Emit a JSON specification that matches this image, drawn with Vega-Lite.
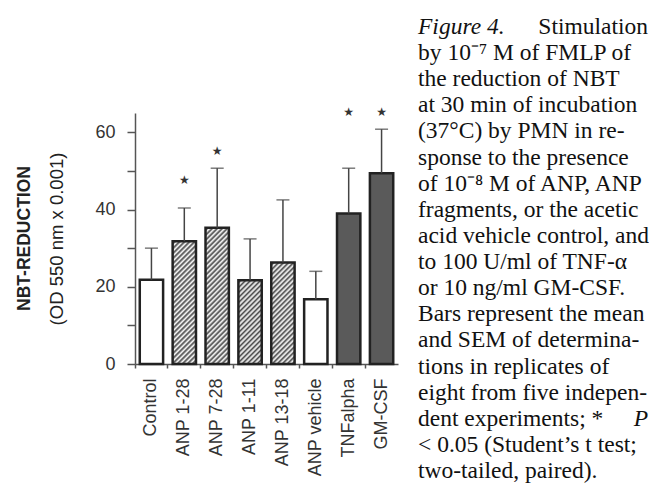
{
  "$schema": "https://vega.github.io/schema/vega-lite/v6.json",
  "background": "white",
  "padding": {"left": 16, "top": 15, "right": 0, "bottom": 0},
  "spacing": 20,
  "config": {"view": {"stroke": null}},
  "datasets": {
    "bars": [
      {"cond": "Control", "mean": 21.8, "upper": 30.0, "group": "open"},
      {"cond": "ANP 1-28", "mean": 31.8, "upper": 40.4, "group": "hatch", "star": 47.6},
      {"cond": "ANP 7-28", "mean": 35.3, "upper": 50.7, "group": "hatch", "star": 55.2},
      {"cond": "ANP 1-11", "mean": 21.7, "upper": 32.4, "group": "hatch"},
      {"cond": "ANP 13-18", "mean": 26.3, "upper": 42.5, "group": "hatch"},
      {"cond": "ANP vehicle", "mean": 16.8, "upper": 24.0, "group": "open"},
      {"cond": "TNFalpha", "mean": 39.0, "upper": 50.7, "group": "dot", "star": 65.2},
      {"cond": "GM-CSF", "mean": 49.4, "upper": 60.8, "group": "dot", "star": 65.2}
    ],
    "caption": [
      {"line": 1, "text": "Figure 4.", "side": "L", "it": true},
      {"line": 1, "text": "Stimulation", "side": "R", "it": false},
      {"line": 2, "text": "by 10⁻⁷ M of FMLP of", "side": "L", "it": false},
      {"line": 3, "text": "the reduction of NBT", "side": "L", "it": false},
      {"line": 4, "text": "at 30 min of incubation", "side": "L", "it": false},
      {"line": 5, "text": "(37°C) by PMN in re-", "side": "L", "it": false},
      {"line": 6, "text": "sponse to the presence", "side": "L", "it": false},
      {"line": 7, "text": "of 10⁻⁸ M of ANP, ANP", "side": "L", "it": false},
      {"line": 8, "text": "fragments, or the acetic", "side": "L", "it": false},
      {"line": 9, "text": "acid vehicle control, and", "side": "L", "it": false},
      {"line": 10, "text": "to 100 U/ml of TNF-α", "side": "L", "it": false},
      {"line": 11, "text": "or 10 ng/ml GM-CSF.", "side": "L", "it": false},
      {"line": 12, "text": "Bars represent the mean", "side": "L", "it": false},
      {"line": 13, "text": "and SEM of determina-", "side": "L", "it": false},
      {"line": 14, "text": "tions in replicates of", "side": "L", "it": false},
      {"line": 15, "text": "eight from five indepen-", "side": "L", "it": false},
      {"line": 16, "text": "dent experiments; *", "side": "L", "it": false},
      {"line": 16, "text": "P", "side": "R", "it": true},
      {"line": 17, "text": "< 0.05 (Student’s t test;", "side": "L", "it": false},
      {"line": 18, "text": "two-tailed, paired).", "side": "L", "it": false}
    ]
  },
  "hconcat": [
    {
      "width": 263,
      "height": 251,
      "data": {"name": "bars"},
      "title": {
        "text": "NBT-REDUCTION",
        "orient": "left",
        "anchor": "middle",
        "font": "Liberation Sans",
        "fontSize": 17.5,
        "fontWeight": "bold",
        "color": "#222",
        "offset": 14
      },
      "encoding": {
        "x": {
          "field": "cond",
          "type": "nominal",
          "sort": null,
          "scale": {"paddingInner": 0, "paddingOuter": 0},
          "axis": {
            "title": null,
            "labelAngle": -90,
            "labelFont": "Liberation Sans",
            "labelFontSize": 18,
            "labelColor": "#333",
            "labelPadding": 10,
            "bandPosition": 0,
            "tickSize": 4,
            "tickColor": "#555",
            "tickWidth": 1.5,
            "domainColor": "#555",
            "domainWidth": 1.5,
            "grid": false
          }
        }
      },
      "layer": [
        {
          "mark": {"type": "bar", "width": {"band": 0.71}, "stroke": "#222", "strokeWidth": 2.5},
          "encoding": {
            "y": {
              "field": "mean",
              "type": "quantitative",
              "scale": {"domain": [0, 65], "nice": false},
              "axis": {
                "title": "(OD 550 nm x 0.001)",
                "titleFont": "Liberation Sans",
                "titleFontSize": 18.5,
                "titleFontWeight": "normal",
                "titleColor": "#222",
                "titlePadding": 28,
                "values": [0, 10, 20, 30, 40, 50, 60],
                "labelExpr": "datum.value % 20 === 0 ? datum.label : ''",
                "labelFont": "Liberation Sans",
                "labelFontSize": 18,
                "labelColor": "#333",
                "labelPadding": 12,
                "tickSize": 8,
                "tickColor": "#555",
                "tickWidth": 1.5,
                "domainColor": "#555",
                "domainWidth": 1.5,
                "grid": false
              }
            },
            "fill": {
              "condition": [
                {"test": "datum.cond === 'ANP 1-28'", "value": {"gradient": "linear", "x1": 0, "y1": 0, "x2": 0.23903, "y2": 1.25752, "stops": [
                  {"offset": 0, "color": "#fff"}, {"offset": 0.015625, "color": "#474747"}, {"offset": 0.03125, "color": "#fff"}, {"offset": 0.046875, "color": "#474747"},
                  {"offset": 0.0625, "color": "#fff"}, {"offset": 0.078125, "color": "#474747"}, {"offset": 0.09375, "color": "#fff"}, {"offset": 0.109375, "color": "#474747"},
                  {"offset": 0.125, "color": "#fff"}, {"offset": 0.140625, "color": "#474747"}, {"offset": 0.15625, "color": "#fff"}, {"offset": 0.171875, "color": "#474747"},
                  {"offset": 0.1875, "color": "#fff"}, {"offset": 0.203125, "color": "#474747"}, {"offset": 0.21875, "color": "#fff"}, {"offset": 0.234375, "color": "#474747"},
                  {"offset": 0.25, "color": "#fff"}, {"offset": 0.265625, "color": "#474747"}, {"offset": 0.28125, "color": "#fff"}, {"offset": 0.296875, "color": "#474747"},
                  {"offset": 0.3125, "color": "#fff"}, {"offset": 0.328125, "color": "#474747"}, {"offset": 0.34375, "color": "#fff"}, {"offset": 0.359375, "color": "#474747"},
                  {"offset": 0.375, "color": "#fff"}, {"offset": 0.390625, "color": "#474747"}, {"offset": 0.40625, "color": "#fff"}, {"offset": 0.421875, "color": "#474747"},
                  {"offset": 0.4375, "color": "#fff"}, {"offset": 0.453125, "color": "#474747"}, {"offset": 0.46875, "color": "#fff"}, {"offset": 0.484375, "color": "#474747"},
                  {"offset": 0.5, "color": "#fff"}, {"offset": 0.515625, "color": "#474747"}, {"offset": 0.53125, "color": "#fff"}, {"offset": 0.546875, "color": "#474747"},
                  {"offset": 0.5625, "color": "#fff"}, {"offset": 0.578125, "color": "#474747"}, {"offset": 0.59375, "color": "#fff"}, {"offset": 0.609375, "color": "#474747"},
                  {"offset": 0.625, "color": "#fff"}, {"offset": 0.640625, "color": "#474747"}, {"offset": 0.65625, "color": "#fff"}, {"offset": 0.671875, "color": "#474747"},
                  {"offset": 0.6875, "color": "#fff"}, {"offset": 0.703125, "color": "#474747"}, {"offset": 0.71875, "color": "#fff"}, {"offset": 0.734375, "color": "#474747"},
                  {"offset": 0.75, "color": "#fff"}, {"offset": 0.765625, "color": "#474747"}, {"offset": 0.78125, "color": "#fff"}, {"offset": 0.796875, "color": "#474747"},
                  {"offset": 0.8125, "color": "#fff"}, {"offset": 0.828125, "color": "#474747"}, {"offset": 0.84375, "color": "#fff"}, {"offset": 0.859375, "color": "#474747"},
                  {"offset": 0.875, "color": "#fff"}, {"offset": 0.890625, "color": "#474747"}, {"offset": 0.90625, "color": "#fff"}, {"offset": 0.921875, "color": "#474747"},
                  {"offset": 0.9375, "color": "#fff"}
                ]}},
                {"test": "datum.cond === 'ANP 7-28'", "value": {"gradient": "linear", "x1": 0, "y1": 0, "x2": 0.19526, "y2": 1.14034, "stops": [
                  {"offset": 0, "color": "#fff"}, {"offset": 0.015625, "color": "#474747"}, {"offset": 0.03125, "color": "#fff"}, {"offset": 0.046875, "color": "#474747"},
                  {"offset": 0.0625, "color": "#fff"}, {"offset": 0.078125, "color": "#474747"}, {"offset": 0.09375, "color": "#fff"}, {"offset": 0.109375, "color": "#474747"},
                  {"offset": 0.125, "color": "#fff"}, {"offset": 0.140625, "color": "#474747"}, {"offset": 0.15625, "color": "#fff"}, {"offset": 0.171875, "color": "#474747"},
                  {"offset": 0.1875, "color": "#fff"}, {"offset": 0.203125, "color": "#474747"}, {"offset": 0.21875, "color": "#fff"}, {"offset": 0.234375, "color": "#474747"},
                  {"offset": 0.25, "color": "#fff"}, {"offset": 0.265625, "color": "#474747"}, {"offset": 0.28125, "color": "#fff"}, {"offset": 0.296875, "color": "#474747"},
                  {"offset": 0.3125, "color": "#fff"}, {"offset": 0.328125, "color": "#474747"}, {"offset": 0.34375, "color": "#fff"}, {"offset": 0.359375, "color": "#474747"},
                  {"offset": 0.375, "color": "#fff"}, {"offset": 0.390625, "color": "#474747"}, {"offset": 0.40625, "color": "#fff"}, {"offset": 0.421875, "color": "#474747"},
                  {"offset": 0.4375, "color": "#fff"}, {"offset": 0.453125, "color": "#474747"}, {"offset": 0.46875, "color": "#fff"}, {"offset": 0.484375, "color": "#474747"},
                  {"offset": 0.5, "color": "#fff"}, {"offset": 0.515625, "color": "#474747"}, {"offset": 0.53125, "color": "#fff"}, {"offset": 0.546875, "color": "#474747"},
                  {"offset": 0.5625, "color": "#fff"}, {"offset": 0.578125, "color": "#474747"}, {"offset": 0.59375, "color": "#fff"}, {"offset": 0.609375, "color": "#474747"},
                  {"offset": 0.625, "color": "#fff"}, {"offset": 0.640625, "color": "#474747"}, {"offset": 0.65625, "color": "#fff"}, {"offset": 0.671875, "color": "#474747"},
                  {"offset": 0.6875, "color": "#fff"}, {"offset": 0.703125, "color": "#474747"}, {"offset": 0.71875, "color": "#fff"}, {"offset": 0.734375, "color": "#474747"},
                  {"offset": 0.75, "color": "#fff"}, {"offset": 0.765625, "color": "#474747"}, {"offset": 0.78125, "color": "#fff"}, {"offset": 0.796875, "color": "#474747"},
                  {"offset": 0.8125, "color": "#fff"}, {"offset": 0.828125, "color": "#474747"}, {"offset": 0.84375, "color": "#fff"}, {"offset": 0.859375, "color": "#474747"},
                  {"offset": 0.875, "color": "#fff"}, {"offset": 0.890625, "color": "#474747"}, {"offset": 0.90625, "color": "#fff"}, {"offset": 0.921875, "color": "#474747"},
                  {"offset": 0.9375, "color": "#fff"}, {"offset": 0.953125, "color": "#474747"}, {"offset": 0.96875, "color": "#fff"}, {"offset": 0.984375, "color": "#474747"},
                  {"offset": 1, "color": "#fff"}
                ]}},
                {"test": "datum.cond === 'ANP 1-11'", "value": {"gradient": "linear", "x1": 0, "y1": 0, "x2": 0.49357, "y2": 1.77194, "stops": [
                  {"offset": 0, "color": "#fff"}, {"offset": 0.015625, "color": "#474747"}, {"offset": 0.03125, "color": "#fff"}, {"offset": 0.046875, "color": "#474747"},
                  {"offset": 0.0625, "color": "#fff"}, {"offset": 0.078125, "color": "#474747"}, {"offset": 0.09375, "color": "#fff"}, {"offset": 0.109375, "color": "#474747"},
                  {"offset": 0.125, "color": "#fff"}, {"offset": 0.140625, "color": "#474747"}, {"offset": 0.15625, "color": "#fff"}, {"offset": 0.171875, "color": "#474747"},
                  {"offset": 0.1875, "color": "#fff"}, {"offset": 0.203125, "color": "#474747"}, {"offset": 0.21875, "color": "#fff"}, {"offset": 0.234375, "color": "#474747"},
                  {"offset": 0.25, "color": "#fff"}, {"offset": 0.265625, "color": "#474747"}, {"offset": 0.28125, "color": "#fff"}, {"offset": 0.296875, "color": "#474747"},
                  {"offset": 0.3125, "color": "#fff"}, {"offset": 0.328125, "color": "#474747"}, {"offset": 0.34375, "color": "#fff"}, {"offset": 0.359375, "color": "#474747"},
                  {"offset": 0.375, "color": "#fff"}, {"offset": 0.390625, "color": "#474747"}, {"offset": 0.40625, "color": "#fff"}, {"offset": 0.421875, "color": "#474747"},
                  {"offset": 0.4375, "color": "#fff"}, {"offset": 0.453125, "color": "#474747"}, {"offset": 0.46875, "color": "#fff"}, {"offset": 0.484375, "color": "#474747"},
                  {"offset": 0.5, "color": "#fff"}, {"offset": 0.515625, "color": "#474747"}, {"offset": 0.53125, "color": "#fff"}, {"offset": 0.546875, "color": "#474747"},
                  {"offset": 0.5625, "color": "#fff"}, {"offset": 0.578125, "color": "#474747"}, {"offset": 0.59375, "color": "#fff"}, {"offset": 0.609375, "color": "#474747"},
                  {"offset": 0.625, "color": "#fff"}, {"offset": 0.640625, "color": "#474747"}, {"offset": 0.65625, "color": "#fff"}, {"offset": 0.671875, "color": "#474747"},
                  {"offset": 0.6875, "color": "#fff"}
                ]}},
                {"test": "datum.cond === 'ANP 13-18'", "value": {"gradient": "linear", "x1": 0, "y1": 0, "x2": 0.34392, "y2": 1.49642, "stops": [
                  {"offset": 0, "color": "#fff"}, {"offset": 0.015625, "color": "#474747"}, {"offset": 0.03125, "color": "#fff"}, {"offset": 0.046875, "color": "#474747"},
                  {"offset": 0.0625, "color": "#fff"}, {"offset": 0.078125, "color": "#474747"}, {"offset": 0.09375, "color": "#fff"}, {"offset": 0.109375, "color": "#474747"},
                  {"offset": 0.125, "color": "#fff"}, {"offset": 0.140625, "color": "#474747"}, {"offset": 0.15625, "color": "#fff"}, {"offset": 0.171875, "color": "#474747"},
                  {"offset": 0.1875, "color": "#fff"}, {"offset": 0.203125, "color": "#474747"}, {"offset": 0.21875, "color": "#fff"}, {"offset": 0.234375, "color": "#474747"},
                  {"offset": 0.25, "color": "#fff"}, {"offset": 0.265625, "color": "#474747"}, {"offset": 0.28125, "color": "#fff"}, {"offset": 0.296875, "color": "#474747"},
                  {"offset": 0.3125, "color": "#fff"}, {"offset": 0.328125, "color": "#474747"}, {"offset": 0.34375, "color": "#fff"}, {"offset": 0.359375, "color": "#474747"},
                  {"offset": 0.375, "color": "#fff"}, {"offset": 0.390625, "color": "#474747"}, {"offset": 0.40625, "color": "#fff"}, {"offset": 0.421875, "color": "#474747"},
                  {"offset": 0.4375, "color": "#fff"}, {"offset": 0.453125, "color": "#474747"}, {"offset": 0.46875, "color": "#fff"}, {"offset": 0.484375, "color": "#474747"},
                  {"offset": 0.5, "color": "#fff"}, {"offset": 0.515625, "color": "#474747"}, {"offset": 0.53125, "color": "#fff"}, {"offset": 0.546875, "color": "#474747"},
                  {"offset": 0.5625, "color": "#fff"}, {"offset": 0.578125, "color": "#474747"}, {"offset": 0.59375, "color": "#fff"}, {"offset": 0.609375, "color": "#474747"},
                  {"offset": 0.625, "color": "#fff"}, {"offset": 0.640625, "color": "#474747"}, {"offset": 0.65625, "color": "#fff"}, {"offset": 0.671875, "color": "#474747"},
                  {"offset": 0.6875, "color": "#fff"}, {"offset": 0.703125, "color": "#474747"}, {"offset": 0.71875, "color": "#fff"}, {"offset": 0.734375, "color": "#474747"},
                  {"offset": 0.75, "color": "#fff"}, {"offset": 0.765625, "color": "#474747"}, {"offset": 0.78125, "color": "#fff"}, {"offset": 0.796875, "color": "#474747"},
                  {"offset": 0.8125, "color": "#fff"}
                ]}}
              ],
              "field": "group",
              "type": "nominal",
              "scale": {"domain": ["open", "hatch", "dot"], "range": ["#ffffff", "#a8a8a8", "#5a5a5a"]},
              "legend": null
            }
          }
        },
        {
          "mark": {"type": "rule", "color": "#444", "strokeWidth": 1.5},
          "encoding": {
            "y": {"field": "mean", "type": "quantitative"},
            "y2": {"field": "upper"}
          }
        },
        {
          "mark": {"type": "tick", "color": "#444", "size": 13, "thickness": 1.5, "orient": "horizontal"},
          "encoding": {
            "y": {"field": "upper", "type": "quantitative"}
          }
        },
        {
          "transform": [{"filter": "isValid(datum.star)"}],
          "mark": {"type": "text", "text": "★", "font": "DejaVu Sans", "fontSize": 12, "color": "#333", "baseline": "middle", "align": "center"},
          "encoding": {
            "y": {"field": "star", "type": "quantitative"}
          }
        }
      ]
    },
    {
      "width": 230,
      "height": 251,
      "data": {"name": "caption"},
      "encoding": {
        "y": {
          "field": "line",
          "type": "quantitative",
          "scale": {"domain": [4.0245, 13.634], "reverse": true, "nice": false, "zero": false},
          "axis": null
        }
      },
      "layer": [
        {
          "transform": [{"filter": "datum.side === 'L' && !datum.it"}],
          "mark": {"type": "text", "align": "left", "baseline": "alphabetic", "font": "Liberation Serif", "fontSize": 23.5, "color": "#111"},
          "encoding": {
            "x": {"datum": 0, "type": "quantitative", "scale": {"domain": [0, 1], "nice": false, "zero": false}, "axis": null},
            "text": {"field": "text"}
          }
        },
        {
          "transform": [{"filter": "datum.side === 'L' && datum.it"}],
          "mark": {"type": "text", "align": "left", "baseline": "alphabetic", "font": "Liberation Serif", "fontSize": 23.5, "fontStyle": "italic", "color": "#111"},
          "encoding": {
            "x": {"datum": 0, "type": "quantitative", "axis": null},
            "text": {"field": "text"}
          }
        },
        {
          "transform": [{"filter": "datum.side === 'R' && !datum.it"}],
          "mark": {"type": "text", "align": "right", "baseline": "alphabetic", "font": "Liberation Serif", "fontSize": 23.5, "color": "#111"},
          "encoding": {
            "x": {"datum": 1, "type": "quantitative", "axis": null},
            "text": {"field": "text"}
          }
        },
        {
          "transform": [{"filter": "datum.side === 'R' && datum.it"}],
          "mark": {"type": "text", "align": "right", "baseline": "alphabetic", "font": "Liberation Serif", "fontSize": 23.5, "fontStyle": "italic", "color": "#111"},
          "encoding": {
            "x": {"datum": 1, "type": "quantitative", "axis": null},
            "text": {"field": "text"}
          }
        }
      ]
    }
  ]
}
